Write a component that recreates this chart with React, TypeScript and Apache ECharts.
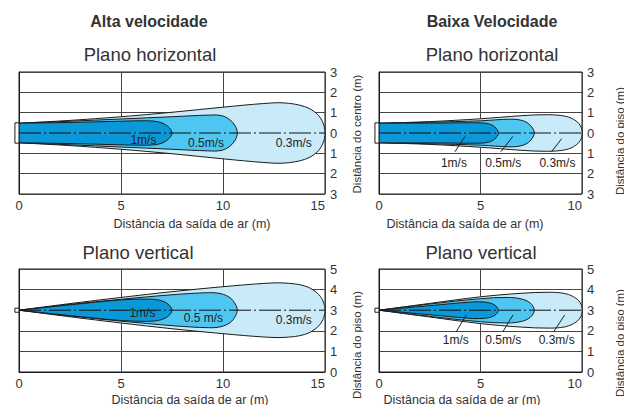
import React, { useEffect, useRef } from "react";
import * as echarts from "echarts";

// ---------- data ----------
// envelope profiles: [distance from outlet (m), half width (m)], upper edge, mirrored below
const altaH03 = [[0, 0.48], [2.5, 0.62], [5, 0.8], [7.5, 1.02], [10, 1.27], [12, 1.45], [13, 1.48], [14, 1.3], [14.6, 0.95], [14.9, 0.5], [15, 0]];
const altaH05 = [[0, 0.48], [2.5, 0.58], [5, 0.69], [7.5, 0.8], [9.3, 0.88], [9.9, 0.86], [10.3, 0.68], [10.6, 0.35], [10.7, 0]];
const altaH10 = [[0, 0.48], [2.5, 0.52], [5, 0.58], [6.3, 0.6], [6.9, 0.53], [7.3, 0.32], [7.5, 0]];

const baixaH03 = [[0, 0.48], [2.5, 0.56], [5, 0.7], [7, 0.85], [8.3, 0.9], [9.2, 0.82], [9.7, 0.6], [9.95, 0.3], [10, 0]];
const baixaH05 = [[0, 0.48], [2.5, 0.53], [5, 0.6], [6.5, 0.68], [7.1, 0.6], [7.45, 0.38], [7.65, 0]];
const baixaH10 = [[0, 0.48], [3, 0.49], [5, 0.5], [5.4, 0.45], [5.7, 0.3], [5.88, 0]];

const altaV03 = [[0, 0], [2.5, 0.32], [5, 0.62], [7.5, 0.9], [10, 1.14], [12, 1.3], [13, 1.32], [14, 1.18], [14.6, 0.85], [14.9, 0.45], [15, 0]];
const altaV05 = [[0, 0], [2.5, 0.28], [5, 0.53], [7.5, 0.75], [9.3, 0.85], [9.9, 0.8], [10.35, 0.6], [10.6, 0.3], [10.7, 0]];
const altaV10 = [[0, 0], [2.5, 0.26], [5, 0.5], [6.3, 0.54], [6.9, 0.48], [7.3, 0.3], [7.5, 0]];

const baixaV03 = [[0, 0], [2.5, 0.33], [5, 0.65], [7, 0.82], [8.4, 0.87], [9.2, 0.8], [9.7, 0.58], [9.95, 0.3], [10, 0]];
const baixaV05 = [[0, 0], [2.5, 0.3], [5, 0.56], [6.3, 0.62], [7, 0.55], [7.45, 0.35], [7.65, 0]];
const baixaV10 = [[0, 0], [2.5, 0.22], [4.6, 0.4], [5.3, 0.38], [5.7, 0.25], [5.88, 0]];

// speed labels: [text, x, y]
const altaHLabels = [["1m/s", 6.1, -0.33], ["0.5m/s", 9.17, -0.47], ["0.3m/s", 13.47, -0.5]];
const baixaHLabels = [["1m/s", 3.69, -1.46], ["0.5m/s", 6.12, -1.46], ["0.3m/s", 8.79, -1.46]];
const altaVLabels = [["1m/s", 6.05, 2.86], ["0.5 m/s", 9.04, 2.62], ["0.3m/s", 13.47, 2.52]];
const baixaVLabels = [["1m/s", 3.78, 1.55], ["0.5m/s", 6.12, 1.55], ["0.3m/s", 8.75, 1.55]];

// leader lines: [x1, y1, x2, y2]
const baixaHLeaders = [[4.24, -0.17, 3.74, -0.92], [6.59, -0.17, 6.0, -0.92], [9.0, -0.28, 8.5, -0.92]];
const baixaVLeaders = [[4.3, 2.77, 3.8, 1.95], [6.6, 2.77, 6.1, 1.95], [9.15, 2.77, 8.6, 1.95]];

// outlet boxes: [x1, y1, x2, y2]
const outletH = [-0.2, -0.5, 0, 0.5];
const outletV = [-0.2, 2.9, 0, 3.1];

// axes
const altaMax = 15;
const baixaMax = 10;
const xInterval = 5;
const hMin = -3, hMax = 3;
const vMin = 0, vMax = 5;
const hCenter = 0;
const vCenter = 3;

const blockTitles = ["Alta velocidade", "Baixa Velocidade"];
const planeTitles = ["Plano horizontal", "Plano vertical"];
const xName = "Distância da saída de ar (m)";
const yNames = ["Distância do centro (m)", "Distância do piso (m)", "Distância do piso (m)", "Distância do piso (m)"];

const COLORS = ["#c9eaf8", "#4dc6f1", "#0a98d9"]; // 0.3, 0.5, 1 m/s
const FONT = "'Liberation Sans', Arial, Helvetica, sans-serif";
const TXT = "#333";

export default function App() {
  const ref = useRef<HTMLDivElement>(null);
  useEffect(() => {
    if (!ref.current) return;
    const chart = echarts.init(ref.current, null, { renderer: "svg" });

    const grids = [
      { left: 19, top: 72, width: 306, height: 122 },
      { left: 379, top: 72, width: 203, height: 122 },
      { left: 19, top: 269, width: 306, height: 103 },
      { left: 379, top: 269, width: 203, height: 103 },
    ];
    const maxes = [altaMax, baixaMax, altaMax, baixaMax];
    const mins = [hMin, hMin, vMin, vMin];
    const ymaxes = [hMax, hMax, vMax, vMax];
    const centers = [hCenter, hCenter, vCenter, vCenter];
    const profiles = [
      [altaH03, altaH05, altaH10],
      [baixaH03, baixaH05, baixaH10],
      [altaV03, altaV05, altaV10],
      [baixaV03, baixaV05, baixaV10],
    ];
    const labels = [altaHLabels, baixaHLabels, altaVLabels, baixaVLabels];
    const leaders = [[], baixaHLeaders, [], baixaVLeaders];
    const outlets = [outletH, outletH, outletV, outletV];

    const series: any[] = [];
    for (let gi = 0; gi < 4; gi++) {
      const c = centers[gi];
      const profs = profiles[gi];
      series.push({
        type: "custom",
        coordinateSystem: "cartesian2d",
        xAxisIndex: gi,
        yAxisIndex: gi,
        silent: true,
        data: profs.map((_, k) => [k, c]),
        renderItem: (params: any, api: any) => {
          const k = params.dataIndex;
          const prof = profs[k];
          const upper = prof.map(([x, h]) => api.coord([x, c + h]));
          const lower = prof.slice(0, -1).reverse().map(([x, h]) => api.coord([x, c - h]));
          const pts = [upper[0], ...upper, ...lower, lower[lower.length - 1]];
          return {
            type: "polygon",
            shape: { points: pts, smooth: 0.35 },
            style: { fill: COLORS[k], stroke: "#1c1c1c", lineWidth: 1 },
          };
        },
      });
      // dash-dot center line
      series.push({
        type: "line",
        xAxisIndex: gi,
        yAxisIndex: gi,
        silent: true,
        symbol: "none",
        data: [[0, c], [maxes[gi], c]],
        lineStyle: { color: "#111", width: 1, type: [22, 3, 2, 3] },
      });
      // outlet box
      const ob = outlets[gi];
      series.push({
        type: "custom",
        coordinateSystem: "cartesian2d",
        xAxisIndex: gi,
        yAxisIndex: gi,
        silent: true,
        data: [[0, c]],
        renderItem: (params: any, api: any) => {
          const p1 = api.coord([ob[0], ob[3]]);
          const p2 = api.coord([ob[2], ob[1]]);
          return {
            type: "rect",
            shape: { x: p1[0], y: p1[1], width: p2[0] - p1[0], height: p2[1] - p1[1] },
            style: { fill: "#fff", stroke: "#1c1c1c", lineWidth: 1 },
          };
        },
      });
      // leader lines
      const ld = leaders[gi];
      if (ld.length) {
        series.push({
          type: "custom",
          coordinateSystem: "cartesian2d",
          xAxisIndex: gi,
          yAxisIndex: gi,
          silent: true,
          data: ld.map((l) => [l[0], l[1]]),
          renderItem: (params: any, api: any) => {
            const l = ld[params.dataIndex];
            const a = api.coord([l[0], l[1]]);
            const b = api.coord([l[2], l[3]]);
            return {
              type: "line",
              shape: { x1: a[0], y1: a[1], x2: b[0], y2: b[1] },
              style: { stroke: "#1c1c1c", lineWidth: 1 },
            };
          },
        });
      }
      // speed labels
      const lb = labels[gi];
      series.push({
        type: "custom",
        coordinateSystem: "cartesian2d",
        xAxisIndex: gi,
        yAxisIndex: gi,
        silent: true,
        data: lb.map((l) => [l[1], l[2]]),
        renderItem: (params: any, api: any) => {
          const l = lb[params.dataIndex];
          const p = api.coord([l[1], l[2]]);
          return {
            type: "text",
            x: p[0],
            y: p[1],
            style: {
              text: l[0],
              fill: "#222",
              fontSize: 12,
              fontFamily: FONT,
              align: "center",
              verticalAlign: "middle",
            },
          };
        },
      });
    }

    const gText = (text: string, x: number, y: number, size: number, bold = false, rot = 0) => ({
      type: "text",
      x,
      y,
      rotation: rot,
      silent: true,
      style: {
        text,
        fill: TXT,
        fontSize: size,
        fontWeight: bold ? "bold" : "normal",
        fontFamily: FONT,
        align: "center",
        verticalAlign: "middle",
      },
    });

    const option: any = {
      animation: false,
      backgroundColor: "#fff",
      grid: grids.map((g) => ({ ...g, show: true, borderColor: "#1c1c1c", borderWidth: 1, backgroundColor: "transparent" })),
      xAxis: grids.map((_, gi) => ({
        type: "value",
        gridIndex: gi,
        min: 0,
        max: maxes[gi],
        interval: xInterval,
        axisLine: { show: true, lineStyle: { color: "#1c1c1c" } },
        axisTick: { show: false },
        axisLabel: { color: TXT, fontSize: 13, fontFamily: FONT, margin: 5, alignMaxLabel: "right" },
        splitLine: { show: true, lineStyle: { color: "#444", width: 1 } },
      })),
      yAxis: grids.map((_, gi) => ({
        type: "value",
        gridIndex: gi,
        position: "right",
        min: mins[gi],
        max: ymaxes[gi],
        interval: 1,
        axisLine: { show: true, lineStyle: { color: "#1c1c1c" } },
        axisTick: { show: false },
        axisLabel: {
          color: TXT,
          fontSize: 13,
          fontFamily: FONT,
          margin: 5,
          formatter: (v: number) => String(Math.abs(v)),
        },
        splitLine: { show: true, lineStyle: { color: "#444", width: 1 } },
      })),
      series,
      graphic: [
        gText(blockTitles[0], 149, 21, 16, true),
        gText(blockTitles[1], 492, 21, 16, true),
        gText(planeTitles[0], 150, 54, 18.5),
        gText(planeTitles[0], 492, 54, 18.5),
        gText(planeTitles[1], 138, 252, 18.5),
        gText(planeTitles[1], 481, 252, 18.5),
        gText(xName, 192, 224, 12.5),
        gText(xName, 465, 224, 12.5),
        gText(xName, 190, 400, 12.5),
        gText(xName, 462, 400, 12.5),
        gText(yNames[0], 357, 134, 11.5, false, Math.PI / 2),
        gText(yNames[1], 620, 141, 11.5, false, Math.PI / 2),
        gText(yNames[2], 357, 345, 11.5, false, Math.PI / 2),
        gText(yNames[3], 620, 343, 11.5, false, Math.PI / 2),
      ],
    };
    chart.setOption(option);
    return () => chart.dispose();
  }, []);
  return <div ref={ref} style={{ position: "absolute", left: 0, top: 0, width: 624, height: 405 }} />;
}
